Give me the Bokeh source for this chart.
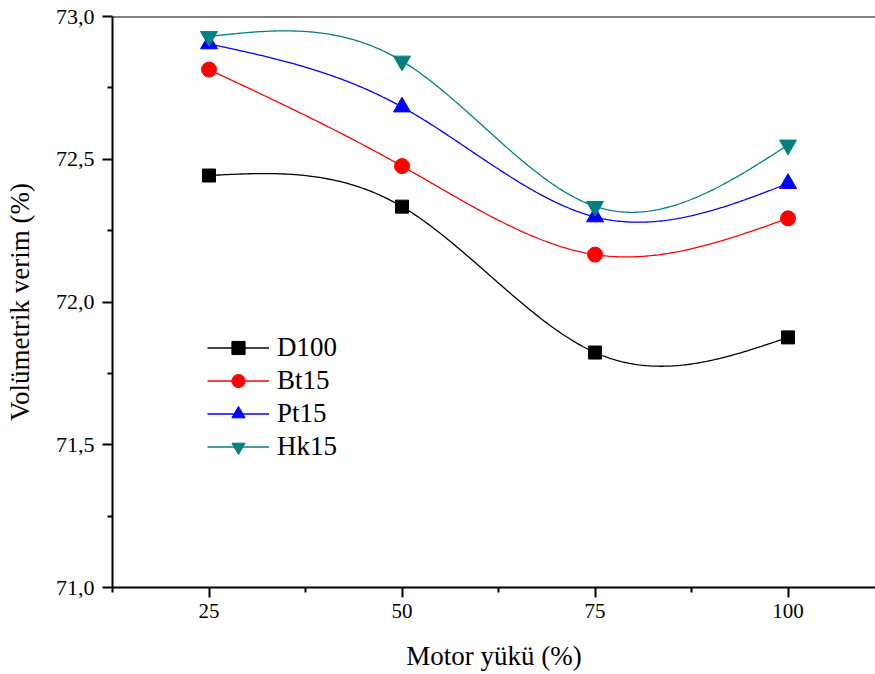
import numpy as np
from bokeh.plotting import figure
from bokeh.models import (FixedTicker, CustomJSTickFormatter, Span, Range1d,
                          Legend, LegendItem, ColumnDataSource)
from bokeh.embed import file_html
from bokeh.resources import INLINE

# ---- data ----
loads = [25, 50, 75, 100]
d100 = [72.443, 72.334, 71.823, 71.876]
bt15 = [72.814, 72.476, 72.166, 72.293]
pt15 = [72.904, 72.683, 72.298, 72.415]
hk15 = [72.930, 72.844, 72.335, 72.550]
series_names = ["D100", "Bt15", "Pt15", "Hk15"]
x_ticks = [25, 50, 75, 100]
x_minor = [12.5, 37.5, 62.5, 87.5]
y_ticks = [71.0, 71.5, 72.0, 72.5, 73.0]
y_minor = [71.25, 71.75, 72.25, 72.75]
x_label = "Motor yükü (%)"
y_label = "Volümetrik verim (%)"


def natural_spline(x, y, n=300):
    x = np.asarray(x, float)
    y = np.asarray(y, float)
    k = len(x)
    h = np.diff(x)
    A = np.zeros((k, k))
    b = np.zeros(k)
    A[0, 0] = 1.0
    A[-1, -1] = 1.0
    for i in range(1, k - 1):
        A[i, i - 1] = h[i - 1]
        A[i, i] = 2 * (h[i - 1] + h[i])
        A[i, i + 1] = h[i]
        b[i] = 6 * ((y[i + 1] - y[i]) / h[i] - (y[i] - y[i - 1]) / h[i - 1])
    M = np.linalg.solve(A, b)
    xs = np.linspace(x[0], x[-1], n)
    ys = np.empty_like(xs)
    for j, xv in enumerate(xs):
        i = min(np.searchsorted(x, xv, side="right") - 1, k - 2)
        i = max(i, 0)
        t1 = x[i + 1] - xv
        t0 = xv - x[i]
        ys[j] = (M[i] * t1 ** 3 / (6 * h[i]) + M[i + 1] * t0 ** 3 / (6 * h[i])
                 + (y[i] / h[i] - M[i] * h[i] / 6) * t1
                 + (y[i + 1] / h[i] - M[i + 1] * h[i] / 6) * t0)
    return xs, ys


FONT = "Liberation Serif"

p = figure(frame_width=763, frame_height=571,
           x_range=Range1d(12.5, 111.33), y_range=Range1d(71.0, 73.0),
           output_backend="svg", toolbar_location=None,
           min_border_left=112, min_border_right=0,
           min_border_top=16, min_border_bottom=87)
p.background_fill_color = "white"
p.border_fill_color = "white"
p.outline_line_color = None
p.xgrid.visible = False
p.ygrid.visible = False

p.xaxis.ticker = FixedTicker(ticks=x_ticks, minor_ticks=x_minor)
p.yaxis.ticker = FixedTicker(ticks=y_ticks, minor_ticks=y_minor)
p.yaxis.formatter = CustomJSTickFormatter(code="return tick.toFixed(1).replace('.', ',');")

for ax in (p.xaxis[0], p.yaxis[0]):
    ax.axis_line_width = 2
    ax.axis_line_color = "black"
    ax.major_tick_line_width = 2
    ax.minor_tick_line_width = 2
    ax.major_tick_line_color = "black"
    ax.minor_tick_line_color = "black"
    ax.major_tick_in = 0
    ax.minor_tick_in = 0
    ax.major_tick_out = 10
    ax.minor_tick_out = 5
    ax.major_label_text_font = FONT
    ax.major_label_text_color = "black"
    ax.axis_label_text_font = FONT
    ax.axis_label_text_font_size = "27px"
    ax.axis_label_text_font_style = "normal"
    ax.axis_label_text_color = "black"

p.xaxis.major_label_text_font_size = "21px"
p.yaxis.major_label_text_font_size = "22px"
p.xaxis.major_label_standoff = 6
p.yaxis.major_label_standoff = 8

p.xaxis.axis_label = x_label
p.yaxis.axis_label = y_label
p.xaxis.axis_label_standoff = 20
p.yaxis.axis_label_standoff = 18

p.add_layout(Span(location=73.0, dimension="width", line_color="black", line_width=2))

colors = ["#000000", "#FF0000", "#0000FF", "#008080"]
markers = ["square", "circle", "triangle", "inverted_triangle"]
sizes = [13, 15, 17, 17]
all_series = [d100, bt15, pt15, hk15]

items = []
for name, vals, c, m, s in zip(series_names, all_series, colors, markers, sizes):
    xs, ys = natural_spline(loads, vals)
    r1 = p.line(xs, ys, line_color=c, line_width=1.3)
    src = ColumnDataSource(dict(x=loads, y=vals))
    r2 = p.scatter("x", "y", source=src, marker=m, size=s,
                   fill_color=c, line_color=c)
    items.append(LegendItem(label=name, renderers=[r1, r2]))

legend = Legend(items=items, location=(95, 124),
                glyph_width=62, glyph_height=33, label_height=33,
                spacing=0, padding=0, margin=0, label_standoff=8,
                label_text_font=FONT, label_text_font_size="27px",
                label_text_color="black",
                border_line_color=None, background_fill_alpha=0)
p.add_layout(legend, "center")

open("out.html", "w").write(file_html(p, INLINE))
